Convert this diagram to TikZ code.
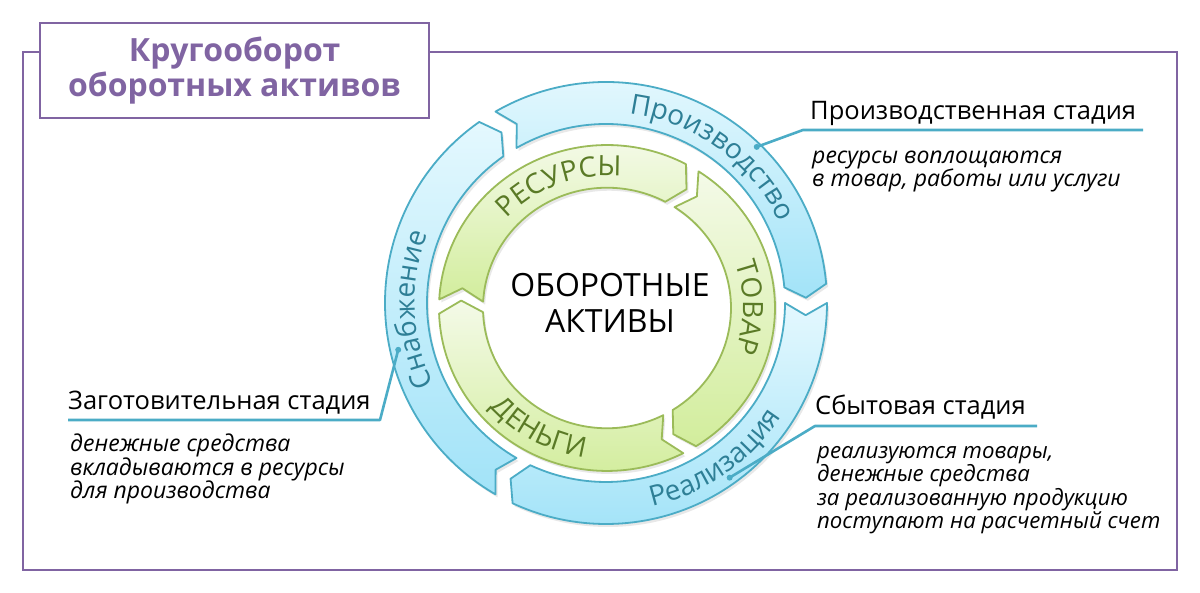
\documentclass[tikz,border=0pt]{standalone}
\usepackage{fontspec}
\setmainfont{Open Sans}
\usetikzlibrary{decorations.text,shadows}
\definecolor{frameP}{HTML}{8064A2}
\definecolor{blueE}{HTML}{4BACC6}
\definecolor{blueT}{HTML}{E4F8FE}
\definecolor{blueB}{HTML}{A2E3F8}
\definecolor{greenE}{HTML}{9BBB59}
\definecolor{greenT}{HTML}{F4FAE8}
\definecolor{greenB}{HTML}{D2ED9C}
\definecolor{blueTxt}{HTML}{2E7F96}
\definecolor{greenTxt}{HTML}{5A7A26}
\newcommand{\fsz}[2]{\fontsize{#1}{#2}\selectfont}
% #1 style, #2 tail angle, #3 head angle, #4 inner r, #5 outer r, #6 chevron depth (deg)
\newcommand{\chevarc}[6]{%
  \draw[#1] (#2:#5) arc[start angle=#2, end angle=#3, radius=#5]
    -- ({#3-#6}:{(#4+#5)/2}) -- (#3:#4)
    arc[start angle=#3, end angle=#2, radius=#4]
    -- ({#2-#6}:{(#4+#5)/2}) -- cycle;}
\tikzset{
  bluearr/.style={draw=blueE, line width=1.8pt, line join=round, top color=blueT, bottom color=blueB,
    drop shadow={opacity=0.18, shadow xshift=2pt, shadow yshift=-3pt}},
  greenarr/.style={draw=greenE, line width=1.8pt, line join=round, top color=greenT, bottom color=greenB,
    drop shadow={opacity=0.18, shadow xshift=2pt, shadow yshift=-3pt}},
  hd/.style={font=\fsz{25.5}{28}, inner sep=0pt, anchor=base west},
  itx/.style={font=\itshape\fsz{23}{23.5}, inner sep=0pt, align=left, anchor=base west},
  lead/.style={draw=blueE, line width=2.6pt, line join=round},
  dotn/.style={circle, fill=blueE, inner sep=0pt, minimum size=6pt},
  framel/.style={draw=frameP, line width=2pt},
}
\begin{document}
\begin{tikzpicture}[x=1pt, y=1pt]
\useasboundingbox (0,0) rectangle (1200,593);
\fill[white] (0,0) rectangle (1200,593);
% outer frame
\draw[framel] (40,541) -- (23,541) -- (23,23) -- (1177,23) -- (1177,541) -- (429,541);
\node[framel, fill=white, minimum width=389pt, minimum height=95pt, inner sep=0pt] (titlebox) at (234.5,522.5) {};
\node[font=\bfseries\fsz{32}{35}, text=frameP, align=center, inner sep=0pt, anchor=base] (title) at (234.5,496)
  {Кругооборот\\оборотных активов};

\begin{scope}[shift={(606,290)}]
  % blue ring
  \chevarc{bluearr}{120}{5}{179}{221}{3.5}
  \chevarc{bluearr}{0}{-115}{179}{221}{3.5}
  \chevarc{bluearr}{240}{125}{179}{221}{3.5}
  % labels on blue ring
  \path[decorate, decoration={text along path, text align=center,
     text={|\color{blueTxt}\fsz{28}{28}|Производство}}]
     (114:191) arc[start angle=114, end angle=-6, radius=191];
  \path[decorate, decoration={text along path, text align=center,
     text={|\color{blueTxt}\fsz{28}{28}|Реализация}}]
     (-115:209) arc[start angle=-115, end angle=5, radius=209];
  \path[decorate, decoration={text along path, text align=center,
     text={|\color{blueTxt}\fsz{28}{28}|Снабжение}}]
     (242:191) arc[start angle=242, end angle=122, radius=191];
  % dots
  \node[dotn] (d1) at (46:217) {};
  \node[dotn] (d2) at (192.7:213) {};
  \node[dotn] (d3) at (-54.7:214) {};
\end{scope}

\begin{scope}[shift={(607,285)}, yscale=0.97]
  % green ring
  \chevarc{greenarr}{177}{62}{124}{168}{5}
  \chevarc{greenarr}{57}{-58}{124}{168}{5}
  \chevarc{greenarr}{297}{182}{124}{168}{5}
  % labels on green ring
  \path[decorate, decoration={text along path, text align=center,
     text={|\color{greenTxt}\fsz{28}{28}|РЕСУРСЫ}}]
     (171:136) arc[start angle=171, end angle=51, radius=136];
  \path[decorate, decoration={text along path, text align=center,
     text={|\color{greenTxt}\fsz{28}{28}|ТОВАР}}]
     (60:136) arc[start angle=60, end angle=-60, radius=136];
  \path[decorate, decoration={text along path, text align=center,
     text={|\color{greenTxt}\fsz{28}{28}|ДЕНЬГИ}}]
     (181:156) arc[start angle=181, end angle=301, radius=156];
\end{scope}

% centre text
\node[font=\fsz{32}{36}, align=center, inner sep=0pt, anchor=base] (centre) at (610,260)
  {ОБОРОТНЫЕ\\АКТИВЫ};

% production stage
\node[hd] (h1) at (810,473) {Производственная стадия};
\coordinate (u1a) at (803,463);
\coordinate (u1b) at (1143,463);
\draw[lead] (d1.center) -- (u1a) -- (u1b);
\node[itx] (t1) at (812,406) {ресурсы воплощаются\\в товар, работы или услуги};

% procurement stage
\node[hd] (h2) at (68,183) {Заготовительная стадия};
\coordinate (u2a) at (380,173);
\coordinate (u2b) at (68,173);
\draw[lead] (d2.center) -- (u2a) -- (u2b);
\node[itx] (t2) at (70,94) {денежные средства\\вкладываются в ресурсы\\для производства};

% sales stage
\node[hd] (h3) at (815,178) {Сбытовая стадия};
\coordinate (u3a) at (815,167);
\coordinate (u3b) at (1037,167);
\draw[lead] (d3.center) -- (u3a) -- (u3b);
\node[itx, font=\itshape\fsz{22.2}{23.5}] (t3) at (817,64) {реализуются товары,\\денежные средства\\за реализованную продукцию\\поступают на расчетный счет};
\end{tikzpicture}
\end{document}
